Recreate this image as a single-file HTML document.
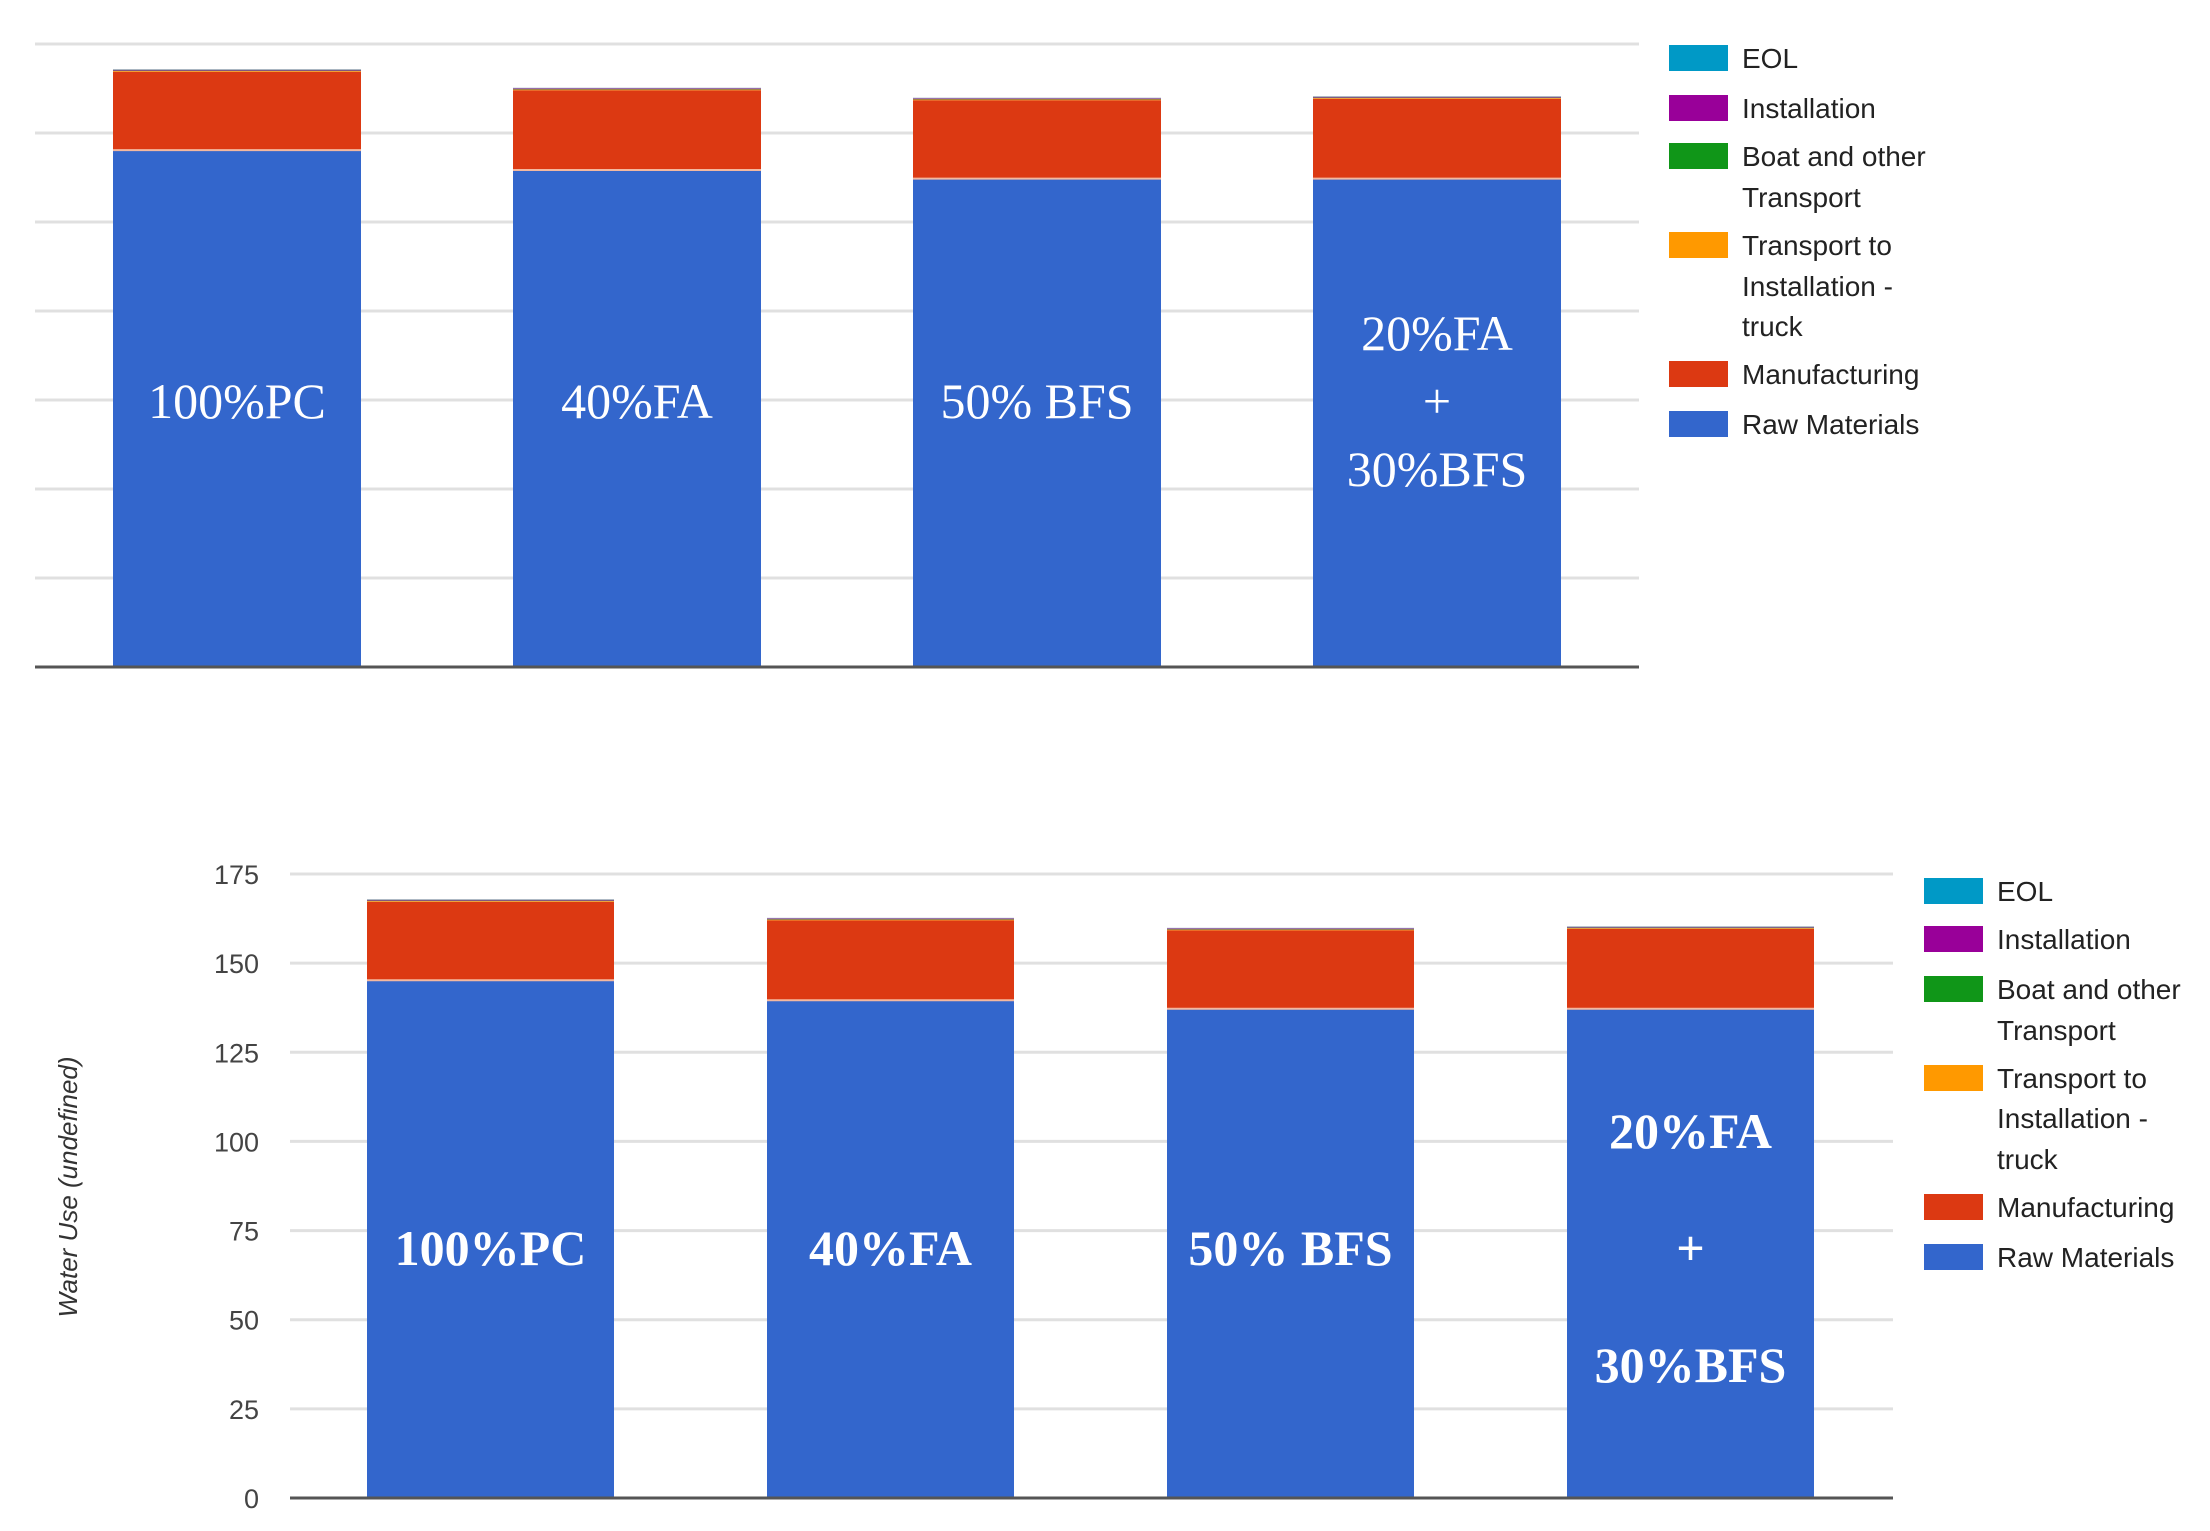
<!DOCTYPE html>
<html><head><meta charset="utf-8"><style>
html,body{margin:0;padding:0;background:#fff;}
svg{display:block;}
</style></head><body>
<svg id="chart" width="2210" height="1531" xmlns="http://www.w3.org/2000/svg"></svg>
<script>
const categories = ["100%PC", "40%FA", "50% BFS", "20%FA+30%BFS"];
const rawMaterials = [145.2, 139.6, 137.2, 137.2];
const manufacturing = [22.0, 22.4, 22.0, 22.4];
const transportTruck = [0.2, 0.2, 0.2, 0.2];
const boatTransport = [0.2, 0.2, 0.2, 0.2];
const installation = [0.1, 0.1, 0.1, 0.1];
const eol = [0.2, 0.2, 0.2, 0.2];
const yTicks = [0, 25, 50, 75, 100, 125, 150, 175];
const seriesNames = ["EOL", "Installation", "Boat and other|Transport", "Transport to|Installation -|truck", "Manufacturing", "Raw Materials"];

const NS = "http://www.w3.org/2000/svg";
const svg = document.getElementById("chart");
function mk(tag, attrs, parent) {
  const e = document.createElementNS(NS, tag);
  for (const k in attrs) e.setAttribute(k, attrs[k]);
  (parent || svg).appendChild(e);
  return e;
}
const stack = [
  {vals: rawMaterials, color: "#3366cc", name: "raw-materials"},
  {vals: manufacturing, color: "#dc3912", name: "manufacturing"},
  {vals: transportTruck, color: "#ff9900", name: "transport-truck"},
  {vals: boatTransport, color: "#5a6a5a", name: "boat-transport"},
  {vals: installation, color: "#990099", name: "installation"},
  {vals: eol, color: "#8899aa", name: "eol"}
];
const legendColors = ["#0099c6", "#990099", "#109618", "#ff9900", "#dc3912", "#3366cc"];

function drawChart(cfg) {
  const g = mk("g", {});
  
  
  const y = v => cfg.base - v * (cfg.base - cfg.top) / 175;
  const bandX = i => cfg.barX0 + i * cfg.barStep;
  yTicks.forEach(t => {
    if (t === 0) return;
    const l = mk("line", {x1: cfg.left, x2: cfg.right, y1: y(t), y2: y(t), stroke: "#e0e0e0", "stroke-width": 3}, g);
    
    
  });
  if (cfg.ticks) {
    yTicks.forEach(t => {
      const tx = mk("text", {x: 259, y: y(t) + 10, "text-anchor": "end", "font-family": "Liberation Sans, sans-serif", "font-size": 27, fill: "#444"}, g);
      tx.textContent = t;
      
      
    });
    const at = mk("text", {x: 0, y: 0, transform: "translate(77,1187) rotate(-90)", "text-anchor": "middle", "font-family": "Liberation Sans, sans-serif", "font-style": "italic", "font-size": 26, fill: "#333"}, g);
    at.textContent = "Water Use (undefined)";
    
    
  }
  categories.forEach((c, i) => {
    let acc = 0;
    stack.forEach(s => {
      const v = s.vals[i];
      const r = mk("rect", {x: bandX(i), width: cfg.barW, y: y(acc + v), height: y(acc) - y(acc + v), fill: s.color}, g);
      
      
      acc += v;
    });
    const sep = mk("line", {x1: bandX(i), x2: bandX(i) + cfg.barW, y1: y(rawMaterials[i]), y2: y(rawMaterials[i]), stroke: "#f3b8a0", "stroke-width": 2}, g);
    
    
    const cx = bandX(i) + cfg.barW / 2;
    const lines = c.indexOf("+") > 0 ? [c.split("+")[0], "+", c.split("+")[1]] : [c];
    lines.forEach((ln, k) => {
      const yy = lines.length === 1 ? cfg.labelY : cfg.labelY + (k - 1) * cfg.lineGap;
      const t = mk("text", {x: cx, y: yy + 17, "text-anchor": "middle", "font-family": "Liberation Serif, serif", "font-size": 50, fill: "#fff", "font-weight": cfg.bold ? "bold" : "normal"}, g);
      t.textContent = ln;
      
      
    });
  });
  const ax = mk("line", {x1: cfg.left, x2: cfg.right, y1: cfg.base, y2: cfg.base, stroke: "#555", "stroke-width": 3}, g);
  
  
  // legend
  const rowsY = cfg.legendRows;
  let r = 0;
  seriesNames.forEach((n, i) => {
    const parts = n.split("|");
    const sw = mk("rect", {x: cfg.legX, y: rowsY[r] - 13, width: 59, height: 26, fill: legendColors[i]}, g);
    
    
    parts.forEach(p => {
      const t = mk("text", {x: cfg.legX + 73, y: rowsY[r] + 10, "font-family": "Liberation Sans, sans-serif", "font-size": 28, fill: "#222", textLength: "", }, g);
      t.removeAttribute("textLength");
      t.textContent = p;
      
      
      r++;
    });
  });
}
drawChart({name: "top-chart", left: 35, right: 1639, base: 667, top: 44, barX0: 113, barStep: 400, barW: 248,
  labelY: 401, lineGap: 68, bold: false, ticks: false, legX: 1669,
  legendRows: [58, 108, 156, 197, 245, 286, 326, 374, 424]});
drawChart({name: "bottom-chart", left: 290, right: 1893, base: 1498, top: 874, barX0: 367, barStep: 400, barW: 247,
  labelY: 1248, lineGap: 117, bold: true, ticks: true, legX: 1924,
  legendRows: [891, 939, 989, 1030, 1078, 1118, 1159, 1207, 1257]});
</script>
</body></html>
